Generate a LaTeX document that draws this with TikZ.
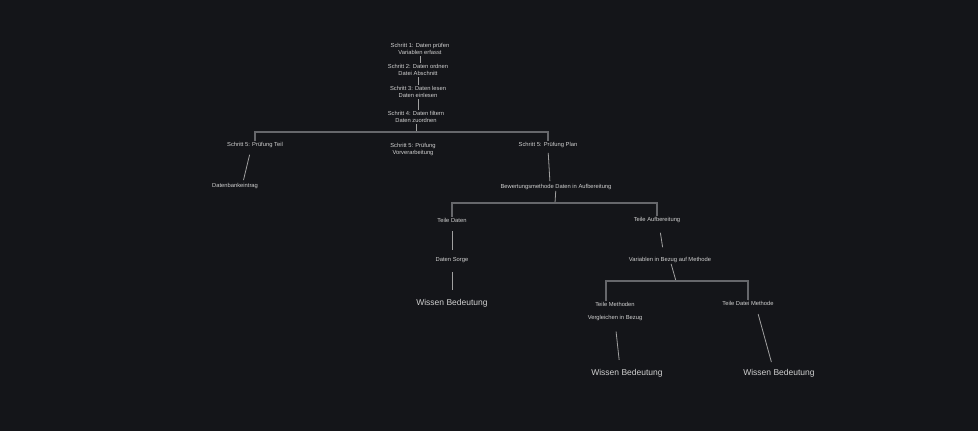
\documentclass[tikz,border=0pt]{standalone}
\usepackage{fontspec}
\setmainfont{Liberation Sans}
\begin{document}
\begin{tikzpicture}[x=1pt,y=-1pt,
  txt/.style={text=txtc,font=\fontsize{5.8}{7.4}\selectfont,inner sep=1pt,align=center},
  leaf/.style={text=txtc,font=\fontsize{8.5}{10}\selectfont,inner sep=1pt,align=center},
  ln/.style={draw=linec,line width=0.8pt},
  brk/.style={draw=brkc,line width=1.8pt}]
\definecolor{bgc}{HTML}{141519}
\definecolor{txtc}{HTML}{D0D0D0}
\definecolor{linec}{HTML}{A0A0A0}
\definecolor{brkc}{HTML}{66676B}
\fill[bgc] (0,0) rectangle (978,431);
\useasboundingbox (0,0) rectangle (978,431);
% top stack
\node[txt] (n1) at (420,49) {Schritt 1: Daten prüfen\\Variablen erfasst};
\node[txt] (n2) at (418,70) {Schritt 2: Daten ordnen\\Datei Abschnitt};
\node[txt] (n3) at (418,92) {Schritt 3: Daten lesen\\Daten einlesen};
\node[txt] (n4) at (416,117) {Schritt 4: Daten filtern\\Daten zuordnen};
\draw[ln] (n1.south) -- (n1.south |- n2.north);
\draw[ln] (n2.south) -- (n2.south |- n3.north);
\draw[ln] (n3.south) -- (n3.south |- n4.north);
% second level
\node[txt] (a) at (255,145) {Schritt 5: Prüfung Teil};
\node[txt] (b) at (413,149.5) {Schritt 5: Prüfung\\Vorverarbeitung};
\node[txt] (c) at (548,145) {Schritt 5: Prüfung Plan};
\coordinate (b1) at (416,132);
\draw[ln] (n4) -- (b1);
\draw[brk] (a.north) |- (b1) -| (c.north);
% left child
\node[txt] (ac) at (235,186) {Datenbankeintrag};
\draw[ln,shorten <=6pt,shorten >=2pt] ([xshift=-4pt]a.south) -- ([xshift=8pt]ac.north);
% right child
\node[txt] (cc) at (556,187) {Bewertungsmethode Daten in Aufbereitung};
\draw[ln,shorten <=4pt,shorten >=2pt] (c.south) -- ([xshift=-6pt]cc.north);
\coordinate (b2) at (555,203);
\draw[ln] (cc) -- (b2);
\node[txt] (d) at (452,220) {Teile Daten};
\node[txt] (e) at (657,220) {Teile Aufbereitung};
\draw[brk] (d.north) |- (b2) -| (e.north);
% left branch
\node[txt] (d2) at (452,260) {Daten Sorge};
\node[leaf] (d3) at (452,303) {Wissen Bedeutung};
\draw[ln,shorten <=8pt,shorten >=6pt] (d) -- (d2);
\draw[ln,shorten <=8pt,shorten >=8pt] (d2) -- (d3);
% right branch
\node[txt] (e2) at (670,260) {Variablen in Bezug auf Methode};
\draw[ln,shorten <=9pt,shorten >=9pt] ([xshift=2pt]e.south) -- ([xshift=-6pt]e2.north);
\coordinate (b3) at (676,281);
\draw[ln] (e2) -- (b3);
\node[txt] (f) at (615,311.5) {Teile Methoden\\[5pt]Vergleichen in Bezug};
\node[txt] (g) at (748,303) {Teile Datei Methode};
\draw[brk] ([xshift=-9pt]f.north) |- (b3) -| (g.north);
\node[leaf] (f2) at (627,373) {Wissen Bedeutung};
\node[leaf] (g2) at (779,373) {Wissen Bedeutung};
\draw[ln,shorten <=10pt,shorten >=8pt] (f.south) -- ([xshift=-7pt]f2.north);
\draw[ln,shorten <=8pt,shorten >=6pt] ([xshift=8pt]g.south) -- ([xshift=-6pt]g2.north);
\end{tikzpicture}
\end{document}
